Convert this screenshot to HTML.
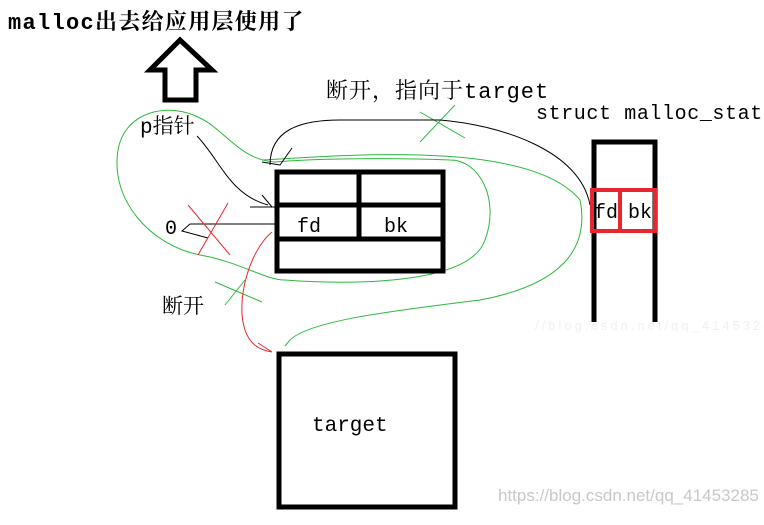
<!DOCTYPE html>
<html><head><meta charset="utf-8"><style>
html,body{margin:0;padding:0;background:#fff;width:764px;height:525px;overflow:hidden}
text{font-family:"Liberation Mono","Noto Serif CJK SC","Noto Sans CJK SC",monospace;fill:#000}
</style></head><body>
<svg width="764" height="525" viewBox="0 0 764 525" xmlns="http://www.w3.org/2000/svg">
<rect width="764" height="525" fill="#fff"/>
<text x="8" y="29" font-size="22" font-weight="bold" letter-spacing="1.3">malloc出去给应用层使用了</text>
<polygon points="180,40 150,70 165,70 165,100 196,100 196,70 212,70" fill="none" stroke="#000" stroke-width="5"/>
<text x="326" y="98" font-size="22" letter-spacing="1">断开，指向于target</text>
<text x="536" y="119" font-size="20" letter-spacing="0.6">struct malloc_state</text>
<text x="140" y="133" font-size="21">p指针</text>
<!-- green loops -->
<path d="M275,162 C240,160 225,130 200,118 C170,102 125,110 118,150 C110,200 150,245 200,255 C240,262 265,280 285,280 C350,285 470,285 485,240 C500,200 480,160 450,160 C400,158 320,158 275,162" fill="none" stroke="#2db83d" stroke-width="1"/>
<path d="M262,160 C350,155 530,140 580,200 C590,250 560,285 480,300 C400,310 310,320 290,340 L285,346" fill="none" stroke="#2db83d" stroke-width="1"/>
<path d="M420,112 L465,138 M455,105 L420,142" stroke="#2db83d" stroke-width="1"/>
<path d="M215,282 L262,302 M245,280 L225,305" stroke="#2db83d" stroke-width="1"/>
<!-- black curves -->
<path d="M270,165 C270,130 300,120 340,120 L440,120 C500,125 580,150 590,205" fill="none" stroke="#000" stroke-width="1"/>
<path d="M262,162 L280,165 L292,148" fill="none" stroke="#000" stroke-width="1"/>
<path d="M197,136 C220,160 230,195 268,205" fill="none" stroke="#000" stroke-width="1"/>
<path d="M250,207 L275,207 M262,195 L272,207" fill="none" stroke="#000" stroke-width="1"/>
<path d="M190,224 L275,224 M190,224 L182,231 L208,238" fill="none" stroke="#000" stroke-width="1"/>
<!-- red -->
<path d="M188,205 L230,255 M228,203 L198,255" stroke="#e8262e" stroke-width="1"/>
<path d="M272,232 C250,250 235,300 245,330 C250,345 260,350 272,352 M258,343 L272,352" fill="none" stroke="#e8262e" stroke-width="1"/>
<!-- main box -->
<rect x="277" y="172" width="166" height="99" fill="none" stroke="#000" stroke-width="5"/>
<line x1="277" y1="205" x2="443" y2="205" stroke="#000" stroke-width="5"/>
<line x1="277" y1="239" x2="443" y2="239" stroke="#000" stroke-width="5"/>
<line x1="359" y1="172" x2="359" y2="239" stroke="#000" stroke-width="5"/>
<text x="297" y="232" font-size="20">fd</text>
<text x="384" y="232" font-size="20">bk</text>
<text x="165" y="234" font-size="20">0</text>
<text x="162" y="313" font-size="21">断开</text>
<!-- malloc_state column -->
<text x="535" y="330" font-size="13" style="font-family:'Liberation Sans',sans-serif;fill:#f0f0f0" letter-spacing="3">//blog.csdn.net/qq_41453285</text>
<path d="M594,322 L594,142 L655,142 L655,322" fill="none" stroke="#000" stroke-width="5"/>
<rect x="592" y="190" width="63" height="41" fill="none" stroke="#e8262e" stroke-width="4"/>
<line x1="620" y1="190" x2="620" y2="231" stroke="#e8262e" stroke-width="4"/>
<text x="594" y="218" font-size="20">fd</text>
<text x="628" y="218" font-size="20">bk</text>
<!-- target -->
<rect x="279" y="354" width="176" height="153" fill="none" stroke="#000" stroke-width="5"/>
<text x="312" y="431" font-size="21">target</text>
<text x="498" y="501" font-size="17" style="font-family:'Liberation Sans',sans-serif;fill:#c8c8c8">https://blog.csdn.net/qq_41453285</text>
</svg>
</body></html>
